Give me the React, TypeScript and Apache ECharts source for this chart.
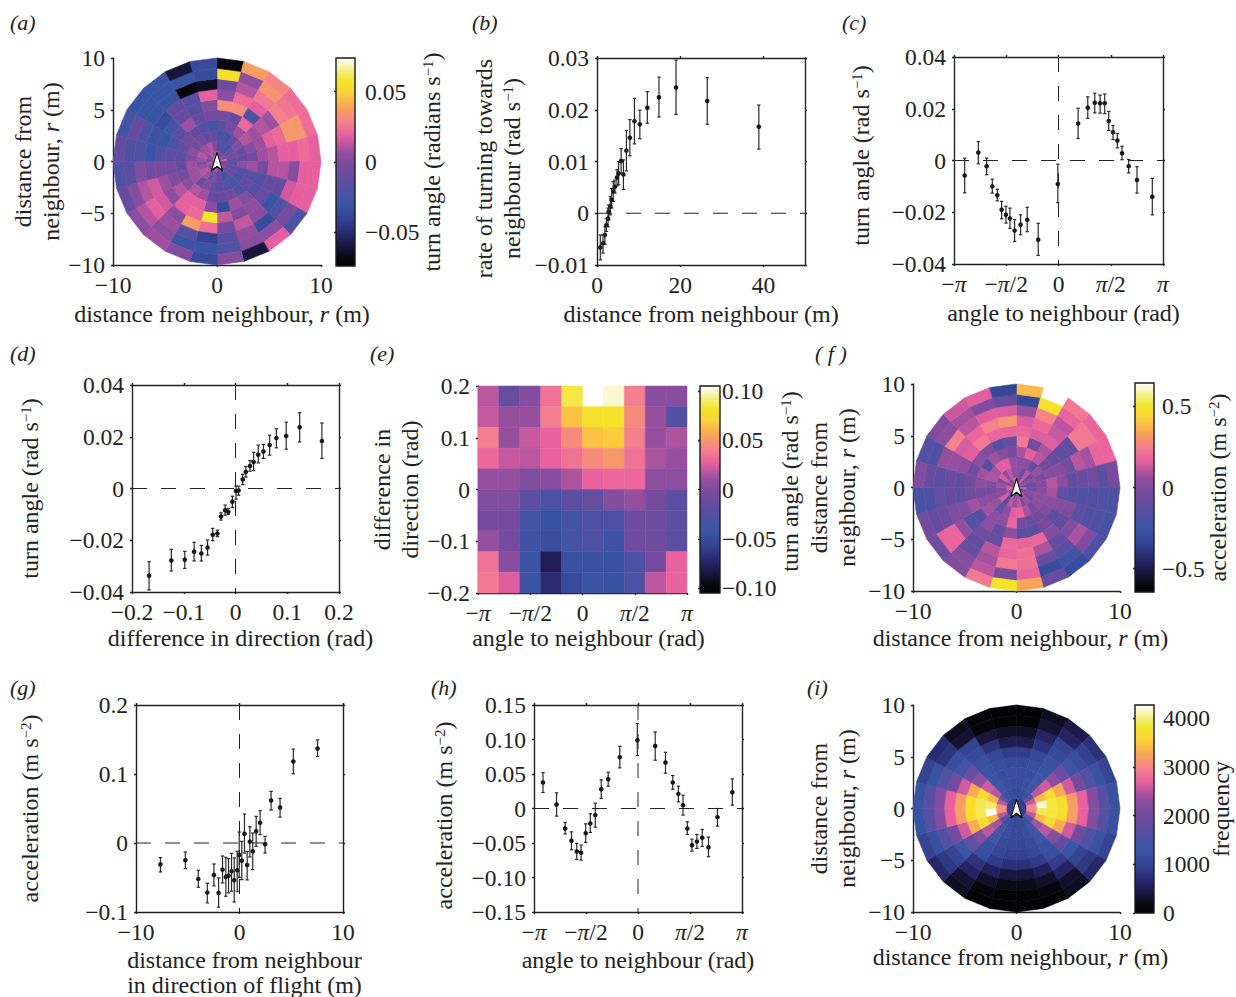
import React, { useEffect, useRef } from "react";
import * as echarts from "echarts";

const SERIF = "Liberation Serif";
const INK = "#222222";
const FS = 23.5;
const NAME_FS = 24;
const PI = Math.PI;

// ---- colour map stops ----
const cmapStops: [number, string][] = [
  [0, "#000000"], [0.05, "#0b0a18"], [0.13, "#231f5e"], [0.22, "#33408f"], [0.3, "#3a55a5"],
  [0.39, "#574fa2"], [0.47, "#744a9e"], [0.54, "#8f4e9f"], [0.58, "#b5559f"], [0.63, "#e8609f"], [0.69, "#f47f8f"],
  [0.76, "#f9a35a"], [0.84, "#fcd535"], [0.89, "#f2e528"], [0.95, "#f5f09a"], [1, "#ffffff"],
];

// ---- panel a: turn angle, in 0.01 rad/s, rings from centre, sectors clockwise from north ----
const aRing0 = [1.2,-1,-1,.4,-1,1.6,-1,-.5,.4,-1,1.6,-.5,1.2,-.5,.8,-1,.4,1.2,-1,.4,-1,1.6,0,1.2];
const aRing1 = [-1.5,-2,-3,-1,-.5,-1,-1.5,-1,-1,-1.5,-2.5,-1,0,-1,.8,1.2,.8,0,.8,1.2,.8,.8,1.2,0];
const aRing2 = [-2.5,-2.5,-1,0,-1,-1,.4,-1.5,-2,-2.5,-1.5,-1.5,-1,0,-1,.8,.8,.8,0,.4,-.5,-.5,-1,-1];
const aRing3 = [-1.5,-.5,.8,1.2,.4,-.5,.8,-1.5,-1,-2,-.5,-1,-1,.8,1.2,.4,-.5,-1,-1.5,-1,-.5,-1,-1.5,-2.5];
const aRing4 = [-.5,-1,2.2,.8,.8,.8,-.5,-2,-1.5,0,.8,-3.5,.4,1.9,1.9,1.2,0,-.5,-1.5,-2,-1.5,.8,-1,-.5];
const aRing5 = [3.2,3.2,-2,1.2,1.9,1.2,1.2,-1,-1,.6,0,1.4,5.8,2.2,1.9,.4,.8,-.5,-1.5,-3,-2.5,-1,-1.5,0];
const aRing6 = [.4,2.3,1.9,.8,2.2,1.9,1.2,-1,-3,.4,1.4,-.5,2.3,3.7,.2,1.6,1.6,-.5,-3,-3,-3.5,-1,-1.5,1.9];
const aRing7 = [-.8,1.2,2.6,2.8,3.5,1.9,.2,1.6,-2,-3.5,.6,-1.5,-4,-1.5,.8,1.9,1.2,0,-2,-2,-3,-3,-7,-6.5];
const aRing8 = [5.5,.6,3.4,2.6,3.5,2.3,1.9,1.9,-.5,.4,.4,-2,-3,-3,.4,1.2,.2,-1.5,-2,-1,-3,-3,-3,-3.5];
const aRing9 = [-7,3.7,3,2.3,2.3,1.9,1.9,1.9,-2,1.9,-6,.2,-3.5,0,.8,.4,-1,-2,-1,-2.5,-3,-3,-6,-3.5];
const aRings = [aRing0,aRing1,aRing2,aRing3,aRing4,aRing5,aRing6,aRing7,aRing8,aRing9];

// ---- panel f: acceleration, in 0.1 m/s2 ----
const fRing0 = [.8,-1,1.5,-1,.8,-1.5,1.5,-1,.4,1.5,-1,.8,-1,1.1,-1,.4,.8,1.8,1.5,-1,.8,-.5,1.1,1.5];
const fRing1 = [.4,-1,1.1,-.5,.4,-1,-.5,.4,-.5,.8,0,1.1,.6,1.1,-1.5,1.5,.4,0,.8,0,1.5,.4,1.1,.4];
const fRing2 = [.4,.4,-1,.6,-.3,.2,.2,.4,.4,-.3,.8,1.8,1.6,.4,-1,.6,.2,-.3,0,.9,.8,1.6,1.6,.6];
const fRing3 = [.9,1.7,1.1,-.5,.2,1.1,.8,.4,0,-.5,-.5,-.5,1.8,.4,.4,.8,.4,-.5,.4,.8,-1.5,.8,.2,-.3];
const fRing4 = [2.3,-.5,.9,-.8,.2,.4,-1.2,.2,-1.2,-.3,-1.2,-1.2,.4,-.8,.4,-1.5,.8,-.5,-.5,-.5,.4,0,-1.5,-.8];
const fRing5 = [1.8,1.5,1.6,-1.2,-.5,-1,-1.5,0,-1,.2,1.9,1.8,1.9,-1,-.5,-1.6,0,-1.2,-1,.4,1.6,2.3,1.8,1.8];
const fRing6 = [1.5,1.9,1.3,-1,1.1,-.8,-1.6,-1.2,0,-1,.9,2.1,1.8,1.1,-1,.6,0,-1,-.8,.6,1.5,1.8,2.5,3];
const fRing7 = [.6,2.6,1.1,2.3,.8,-.5,-1.8,-1.6,.9,-1.3,-.8,2.1,2.3,.8,-.8,1.8,-.8,-1,-1.2,.6,2.5,1.1,1.6,1.5];
const fRing8 = [-3.2,4.8,1.8,2.3,1.8,-1.2,-1.6,-1.6,0,-2.2,-3,1.8,-.3,1.1,.2,1.8,-.8,-1.8,-.8,-1.6,.4,.8,0,-.8];
const fRing9 = [3.8,null,2.3,1.8,1.8,-.3,-1.7,-2,-1.6,-3,-.8,3.4,5,2.3,0,-.6,-.5,-2,0,-1.6,0,1.3,1.6,-3.3];
const fRings = [fRing0,fRing1,fRing2,fRing3,fRing4,fRing5,fRing6,fRing7,fRing8,fRing9];

// ---- panel i: frequency ----
const iRing0 = [900,900,900,900,900,900,900,900,900,900,900,900,900,900,900,900,900,900,900,900,900,900,900,900];
const iRing1 = [1100,1150,1200,1800,2500,3000,3000,2500,1800,1250,1100,1050,1050,1100,1250,1800,2500,3100,3100,2500,1800,1200,1150,1100];
const iRing2 = [1150,1200,1400,2500,3400,4200,3900,3400,2400,1350,1150,1100,1100,1150,1350,2400,3400,4300,3950,3400,2500,1400,1200,1150];
const iRing3 = [1150,1150,1300,2600,3700,3850,3850,3700,2500,1350,1100,1050,1050,1100,1350,2500,3700,3900,3900,3700,2600,1300,1150,1150];
const iRing4 = [1100,1150,1250,2300,3300,3700,3700,3300,2200,1200,1050,950,950,1050,1200,2200,3300,3700,3700,3300,2300,1250,1150,1100];
const iRing5 = [900,1050,1200,1900,2600,3200,3200,2600,1800,1150,900,750,750,900,1150,1800,2600,3200,3200,2600,1900,1200,1050,900];
const iRing6 = [500,800,1100,1400,2000,2700,2700,2000,1300,900,550,400,400,550,800,1300,2000,2700,2700,2000,1400,1100,800,500];
const iRing7 = [300,600,1000,1150,1600,2200,2200,1600,1000,600,300,200,200,300,600,1000,1600,2200,2200,1600,1150,1000,400,300];
const iRing8 = [60,350,600,950,1250,1650,1650,1250,850,300,100,60,60,100,350,850,1200,1650,1650,1250,800,350,100,60];
const iRing9 = [30,250,450,750,1000,1200,1200,1000,650,250,60,30,30,60,250,650,1000,1250,1250,1000,700,250,100,30];
const iRings = [iRing0,iRing1,iRing2,iRing3,iRing4,iRing5,iRing6,iRing7,iRing8,iRing9];

// ---- panel e: turn angle, in 0.01 rad/s, rows from top, columns from left ----
const eRow0 = [1.8,-1.5,.3,3.5,8.5,null,10,4,.5,.5];
const eRow1 = [2,1,1,4,6.5,8,8,4.5,1,-2.5];
const eRow2 = [4,1,2,2.8,4.5,6.5,6.8,4,1,1.5];
const eRow3 = [3,2,1.8,2.8,3.5,4.5,5,3.5,1.5,1];
const eRow4 = [1,1,0,.5,1.5,2.8,3,3,.8,.8];
const eRow5 = [0,0,-2,-3,-2,-1.5,.3,1,-.5,-2];
const eRow6 = [-.5,-.5,-3.5,-4.5,-3.5,-3,-3,-1,-1,-2];
const eRow7 = [1,-.5,-4,-4.8,-3.5,-3,-4,-1,-1,-2];
const eRow8 = [3.5,.5,-4,-8,-4.5,-4.5,-4.5,-3,-.5,2.8];
const eRow9 = [3.8,2.5,-4,-7,-5,-4,-4.5,-3,1.8,2.8];
const eRows = [eRow0,eRow1,eRow2,eRow3,eRow4,eRow5,eRow6,eRow7,eRow8,eRow9];

// ---- panel b ----
const bX = [38.9,26.5,19,14.9,12.1,10.3,9,7.9,7.07,6.35,5.8,5.2,4.8,4.3,3.9,3.5,3.2,2.8,2.65,2.25,1.9,1.45,.8];
const bY = [.0167,.0217,.0243,.0224,.0204,.0172,.0178,.0146,.0121,.0075,.0101,.0077,.0069,.0051,.0042,.0026,.0013,.0003,-.001,-.0023,-.0042,-.0058,-.0066];
const bHi = [.0209,.0262,.0296,.0263,.0235,.0199,.0222,.0181,.016,.0103,.0125,.01,.0084,.0064,.0061,.0048,.0032,.0016,.001,-.001,-.0026,-.0042,-.0042];
const bLo = [.0124,.0172,.0191,.0186,.0174,.0144,.0134,.0111,.0082,.0046,.0077,.0055,.0053,.0039,.0023,.001,-.0003,-.0013,-.0026,-.0035,-.006,-.0077,-.009];

// ---- panel c ----
const cX = [-2.82,-2.41,-2.16,-1.99,-1.84,-1.71,-1.58,-1.46,-1.32,-1.14,-.94,-.61,-.02,.59,.88,1.09,1.25,1.39,1.51,1.64,1.77,1.91,2.11,2.36,2.82];
const cY = [-.0058,.0031,-.0022,-.01,-.0134,-.019,-.021,-.0224,-.0271,-.0248,-.0229,-.0306,-.0091,.0143,.0204,.0223,.0221,.0221,.0153,.0109,.0077,.0028,-.0022,-.0075,-.014];
const cHi = [.0009,.0073,.0009,-.0072,-.0111,-.0158,-.0177,-.0184,-.0228,-.021,-.0181,-.0243,-.0014,.0202,.0246,.026,.0253,.0257,.019,.0135,.0104,.0055,.0004,-.0024,-.0069];
const cLo = [-.0125,-.0013,-.0055,-.0126,-.0156,-.0225,-.0242,-.0262,-.0313,-.0287,-.0275,-.0367,-.0163,.0085,.0163,.0184,.0183,.0181,.0116,.0081,.0049,.0003,-.0048,-.0126,-.021];

// ---- panel d ----
const dX = [-.167,-.124,-.098,-.08,-.066,-.054,-.044,-.035,-.028,-.02,-.014,-.006,.001,.006,.014,.02,.028,.035,.044,.054,.066,.079,.098,.124,.167];
const dY = [-.0337,-.0278,-.0275,-.0244,-.0251,-.0228,-.0179,-.0174,-.0108,-.0084,-.009,-.0051,-.001,-.0008,.0035,.0064,.0087,.0102,.013,.0143,.0168,.0195,.0203,.0237,.0184];
const dHi = [-.0283,-.0235,-.0243,-.0208,-.022,-.0199,-.0154,-.0161,-.0094,-.0064,-.0077,-.003,.001,.0009,.0055,.0085,.0108,.014,.0168,.017,.0206,.0231,.0256,.0293,.0253];
const dLo = [-.0392,-.0319,-.0309,-.028,-.028,-.0257,-.0202,-.0186,-.0122,-.0103,-.01,-.0073,-.0041,-.0026,.0015,.0044,.0067,.0069,.0099,.0116,.0129,.0157,.0152,.018,.0116];

// ---- panel g ----
const gX = [-7.64,-5.23,-3.98,-3.11,-2.47,-2.02,-1.64,-1.32,-1.06,-.77,-.51,-.22,-.03,.22,.48,.74,1,1.28,1.61,1.99,2.47,3.05,3.92,5.2,7.54];
const gY = [-.0313,-.0251,-.052,-.0718,-.0463,-.0723,-.0386,-.0492,-.0473,-.041,-.054,-.0396,-.0174,-.0256,.0135,-.0318,.0019,-.0121,.0169,.0294,-.0019,.0617,.0516,.1182,.137];
const gHi = [-.0212,-.013,-.0395,-.0583,-.0304,-.0506,-.0188,-.0207,-.0227,-.015,-.0217,-.0121,.0159,.0024,.042,-.0121,.0236,.0145,.0386,.0468,.0096,.0748,.0646,.136,.1495];
const gLo = [-.042,-.0371,-.0641,-.0868,-.0622,-.0931,-.0579,-.0772,-.0724,-.07,-.0854,-.07,-.0497,-.0531,-.0145,-.0535,-.0203,-.0386,-.0048,.0121,-.0145,.0478,.0376,.1003,.1254];

// ---- panel h ----
const hX = [-2.87,-2.46,-2.2,-2.01,-1.85,-1.72,-1.58,-1.44,-1.29,-1.11,-.9,-.55,-.02,.52,.83,1.05,1.22,1.36,1.49,1.63,1.78,1.94,2.13,2.4,2.85];
const hY = [.0376,.0058,-.0289,-.0468,-.0622,-.0642,-.0357,-.0217,-.0096,.028,.0425,.0743,.0989,.0907,.0666,.0376,.0212,.0048,-.0289,-.0531,-.0478,-.0425,-.056,-.0125,.0236];
const hHi = [.0521,.0227,-.0203,-.0338,-.0507,-.0531,-.0222,-.0077,.0077,.0415,.0526,.0902,.123,.111,.0815,.0478,.0323,.0193,-.0193,-.0444,-.0376,-.0304,-.0415,0,.0429];
const hLo = [.0232,-.0111,-.0367,-.0598,-.0738,-.0748,-.0492,-.0347,-.027,.0145,.0323,.0589,.0767,.07,.0511,.028,.0096,-.0096,-.0376,-.0617,-.0579,-.055,-.0699,-.0256,.0048];

const panelLabels: [string, number, number][] = [
  ["(a)", 10, 22], ["(b)", 472, 22], ["(c)", 842, 22],
  ["(d)", 10, 353], ["(e)", 370, 353], ["( f )", 815, 353],
  ["(g)", 10, 687], ["(h)", 431, 687], ["(i)", 807, 687],
];

const parsed = cmapStops.map(([t, c]) => [t, parseInt(c.slice(1, 3), 16), parseInt(c.slice(3, 5), 16), parseInt(c.slice(5, 7), 16)]);
function heat(v: number, lo: number, hi: number) {
  const t = Math.max(0, Math.min(1, (v - lo) / (hi - lo)));
  let i = 0;
  while (i < parsed.length - 2 && t > parsed[i + 1][0]) i++;
  const a = parsed[i], b = parsed[i + 1];
  const k = (t - a[0]) / (b[0] - a[0]);
  const m = (j: number) => Math.round(a[j] + (b[j] - a[j]) * k);
  return `rgb(${m(1)},${m(2)},${m(3)})`;
}

const richLabel = { i: { fontFamily: SERIF, fontSize: FS, fontStyle: "italic", color: INK } };
const richName = {
  i: { fontFamily: SERIF, fontSize: NAME_FS, fontStyle: "italic", color: INK, lineHeight: 28 },
  sup: { fontFamily: SERIF, fontSize: 15, color: INK, padding: [0, 0, 9, 0] },
};
const num = (dec: number) => (v: number) => (Math.abs(v) < 1e-9 ? "0" : v.toFixed(dec).replace("-", "\u2212"));
const piFmt = (v: number) => {
  const k = Math.round(v / (PI / 2));
  return ({ "-2": "\u2212{i|\u03c0}", "-1": "\u2212{i|\u03c0}/2", "0": "0", "1": "{i|\u03c0}/2", "2": "{i|\u03c0}" } as any)[String(k)];
};
const piTicks = [-PI, -PI / 2, 0, PI / 2, PI];

const lineStyle = { color: INK, width: 1.4 };
function axis(kind: "x" | "y", gridIndex: number, o: any, labelled = true) {
  const pos = labelled ? (kind === "x" ? "bottom" : "left") : kind === "x" ? "top" : "right";
  const s = o.shift || 0;
  return {
    type: "value", gridIndex, position: o.position || pos, min: o.min, max: o.max,
    ...(o.custom ? {} : { interval: o.interval }),
    axisLine: { show: true, onZero: false, lineStyle },
    axisTick: { show: true, length: 2, lineStyle, ...(o.custom ? { customValues: o.custom } : {}) },
    splitLine: { show: false },
    axisLabel: {
      show: labelled, fontFamily: SERIF, fontSize: FS, color: INK, margin: o.margin ?? 8,
      formatter: o.fmt, rich: richLabel, hideOverlap: false, showMinLabel: true, showMaxLabel: true,
      ...(o.custom ? { customValues: o.custom } : {}),
    },
    ...(labelled && o.name
      ? {
          name: o.name, nameLocation: "middle", nameGap: o.gap, nameMoveOverlap: false,
          nameRotate: kind === "y" ? 90 : 0,
          nameTextStyle: {
            fontFamily: SERIF, fontSize: NAME_FS, color: INK, lineHeight: o.lh ?? 28, rich: richName,
            padding: s > 0 ? [0, 0, 0, 2 * s] : s < 0 ? [0, -2 * s, 0, 0] : 0,
          },
        }
      : {}),
  };
}

const grids: any[] = [], xAxes: any[] = [], yAxes: any[] = [], series: any[] = [];

function panel(rect: number[], x: any, y: any, box: boolean) {
  const g = grids.length;
  grids.push({ left: rect[0], top: rect[1], width: rect[2] - rect[0], height: rect[3] - rect[1], outerBoundsMode: "none" });
  const xi = xAxes.length, yi = yAxes.length;
  xAxes.push(axis("x", g, x));
  yAxes.push(axis("y", g, y));
  if (box) {
    xAxes.push(axis("x", g, x, false));
    yAxes.push(axis("y", g, y, false));
  }
  return { xi, yi };
}

function colorbar(rect: number[], min: number, max: number, ticks: number[], fmt: any, name: string, gap: number, margin: number, shift = 0) {
  const g = grids.length;
  grids.push({
    show: true, left: rect[0], top: rect[1], width: rect[2] - rect[0], height: rect[3] - rect[1],
    borderColor: "#1a1a1a", borderWidth: 1.4, outerBoundsMode: "none",
    backgroundColor: new echarts.graphic.LinearGradient(0, 1, 0, 0, cmapStops.map(([offset, color]) => ({ offset, color }))),
  });
  xAxes.push({ type: "value", gridIndex: g, min: 0, max: 1, show: false });
  const a: any = axis("y", g, { min, max, custom: ticks, fmt, name, gap, margin, position: "right", shift });
  a.axisLine = { show: false };
  a.axisTick.inside = true;
  yAxes.push(a);
}

function arrow(xi: number, yi: number) {
  series.push({
    type: "scatter", xAxisIndex: xi, yAxisIndex: yi, data: [[0, 0]], silent: true, z: 5,
    symbol: "path://M6 0L12 20L6 15.5L0 20Z", symbolSize: [11, 18],
    itemStyle: { color: "#ffffff", borderColor: "#000000", borderWidth: 1.3, opacity: 1, borderJoin: "round" },
  });
}

function polar(xi: number, yi: number, rings: (number | null)[][], unit: number, lo: number, hi: number) {
  const data: number[][] = [];
  rings.forEach((row, r) => row.forEach((v, s) => { if (v !== null) data.push([r, s, v * unit]); }));
  series.push({
    type: "custom", xAxisIndex: xi, yAxisIndex: yi, data, silent: true,
    encode: { x: 0, y: 1 },
    renderItem: (_p: any, api: any) => {
      const r = api.value(0), s = api.value(1), v = api.value(2);
      const t0 = (s * 15 * PI) / 180, t1 = ((s + 1) * 15 * PI) / 180;
      const pt = (rad: number, t: number) => api.coord([rad * Math.sin(t), rad * Math.cos(t)]);
      const c = heat(v, lo, hi);
      return {
        type: "polygon",
        shape: { points: [pt(r, t0), pt(r + 1, t0), pt(r + 1, t1), pt(r, t1)] },
        style: { fill: c, stroke: c, lineWidth: 0.6 },
      };
    },
  });
}

function errbars(xi: number, yi: number, xs: number[], ys: number[], his: number[], los: number[]) {
  series.push({
    type: "custom", xAxisIndex: xi, yAxisIndex: yi, silent: true, z: 4, clip: false,
    data: xs.map((v, i) => [v, ys[i], his[i], los[i]]),
    encode: { x: 0, y: 1 },
    renderItem: (_p: any, api: any) => {
      const x = api.value(0);
      const c = api.coord([x, api.value(1)]), h = api.coord([x, api.value(2)]), l = api.coord([x, api.value(3)]);
      const st = { stroke: "#2a2a2a", lineWidth: 1.2, fill: "none" };
      return {
        type: "group",
        children: [
          { type: "line", shape: { x1: c[0], y1: h[1], x2: c[0], y2: l[1] }, style: st },
          { type: "line", shape: { x1: c[0] - 1.7, y1: h[1], x2: c[0] + 1.7, y2: h[1] }, style: st },
          { type: "line", shape: { x1: c[0] - 1.7, y1: l[1], x2: c[0] + 1.7, y2: l[1] }, style: st },
          { type: "circle", shape: { cx: c[0], cy: c[1], r: 2.3 }, style: { fill: "#1a1a1a" } },
        ],
      };
    },
  });
}

function dashes(xi: number, yi: number, pts: number[][]) {
  series.push({
    type: "line", xAxisIndex: xi, yAxisIndex: yi, data: pts, symbol: "none", silent: true, z: 3,
    lineStyle: { color: "#222", width: 1, type: [15, 14] },
  });
}

const DIST = "distance from neighbour, {i|r} (m)";
const DIST2 = "distance from\nneighbour, {i|r} (m)";

// a
{
  const p = panel([113, 58, 321, 265],
    { min: -10, max: 10, interval: 10, fmt: num(0), name: DIST, gap: 35, shift: 5 },
    { min: -10, max: 10, interval: 5, fmt: num(0), name: DIST2, gap: 48 }, false);
  polar(p.xi, p.yi, aRings, 0.01, -0.074, 0.074);
  arrow(p.xi, p.yi);
  colorbar([336, 58, 355, 266], -0.074, 0.074, [-0.05, 0, 0.05], num(2), "turn angle (radians s{sup|\u22121})", 63, 10);
}
// b
{
  const p = panel([597, 58, 805, 265],
    { min: 0, max: 50, custom: [0, 20, 40], fmt: num(0), name: "distance from neighbour (m)", gap: 35 },
    { min: -0.01, max: 0.03, interval: 0.01, fmt: num(2), name: "rate of turning towards\nneighbour (rad s{sup|\u22121})", gap: 71, shift: -7 }, true);
  dashes(p.xi, p.yi, [[0, 0], [50, 0]]);
  errbars(p.xi, p.yi, bX, bY, bHi, bLo);
}
// c
{
  const p = panel([954, 57, 1163, 264],
    { min: -PI, max: PI, custom: piTicks, fmt: piFmt, name: "angle to neighbour (rad)", gap: 35, shift: 5 },
    { min: -0.04, max: 0.04, interval: 0.02, fmt: num(2), name: "turn angle (rad s{sup|\u22121})", gap: 79, shift: 5 }, true);
  dashes(p.xi, p.yi, [[-PI, 0], [PI, 0]]);
  dashes(p.xi, p.yi, [[0, 0.04], [0, -0.04]]);
  errbars(p.xi, p.yi, cX, cY, cHi, cLo);
}
// d
{
  const p = panel([132, 385, 339, 592],
    { min: -0.2, max: 0.2, interval: 0.1, fmt: num(1), name: "difference in direction (rad)", gap: 32, shift: 5 },
    { min: -0.04, max: 0.04, interval: 0.02, fmt: num(2), name: "turn angle (rad s{sup|\u22121})", gap: 88 }, true);
  dashes(p.xi, p.yi, [[-0.2, 0], [0.2, 0]]);
  dashes(p.xi, p.yi, [[0, 0.04], [0, -0.04]]);
  errbars(p.xi, p.yi, dX, dY, dHi, dLo);
}
// e
{
  const p = panel([478, 386, 687, 593],
    { min: -PI, max: PI, custom: piTicks, fmt: piFmt, name: "angle to neighbour (rad)", gap: 31, shift: 6 },
    { min: -0.2, max: 0.2, interval: 0.1, fmt: num(1), name: "difference in\ndirection (rad)", gap: 54 }, false);
  const data: number[][] = [];
  eRows.forEach((row, r) => row.forEach((v, c) => { if (v !== null) data.push([c, r, v * 0.01]); }));
  series.push({
    type: "custom", xAxisIndex: p.xi, yAxisIndex: p.yi, data, silent: true,
    encode: { x: 0, y: 1 },
    renderItem: (_p: any, api: any) => {
      const c = api.value(0), r = api.value(1);
      const a = api.coord([-PI + (c * 2 * PI) / 10, 0.2 - r * 0.04]);
      const b = api.coord([-PI + ((c + 1) * 2 * PI) / 10, 0.2 - (r + 1) * 0.04]);
      const col = heat(api.value(2), -0.105, 0.105);
      return { type: "rect", shape: { x: a[0], y: a[1], width: b[0] - a[0], height: b[1] - a[1] }, style: { fill: col, stroke: col, lineWidth: 0.5 } };
    },
  });
  colorbar([700, 386, 720, 593], -0.105, 0.105, [-0.1, -0.05, 0, 0.05, 0.1], num(2), "turn angle (rad s{sup|\u22121})", 56, 2, 8);
}
// f
{
  const p = panel([913, 384, 1120, 591],
    { min: -10, max: 10, interval: 10, fmt: num(0), name: DIST, gap: 33, shift: 4 },
    { min: -10, max: 10, interval: 5, fmt: num(0), name: DIST2, gap: 52 }, false);
  polar(p.xi, p.yi, fRings, 0.1, -0.645, 0.645);
  arrow(p.xi, p.yi);
  colorbar([1135, 383, 1154, 592], -0.645, 0.645, [-0.5, 0, 0.5], num(1), "acceleration (m s{sup|\u22122})", 50, 8);
}
// g
{
  const p = panel([136, 705, 343, 912],
    { min: -10, max: 10, interval: 10, fmt: num(0), name: "distance from neighbour\nin direction of flight (m)", gap: 35, shift: 5, lh: 25 },
    { min: -0.1, max: 0.2, interval: 0.1, fmt: num(1), name: "acceleration (m s{sup|\u22122})", gap: 92 }, true);
  dashes(p.xi, p.yi, [[-10, 0], [10, 0]]);
  dashes(p.xi, p.yi, [[0, 0.2], [0, -0.1]]);
  errbars(p.xi, p.yi, gX, gY, gHi, gLo);
}
// h
{
  const p = panel([534, 705, 742, 912],
    { min: -PI, max: PI, custom: piTicks, fmt: piFmt, name: "angle to neighbour (rad)", gap: 34 },
    { min: -0.15, max: 0.15, interval: 0.05, fmt: num(2), name: "acceleration (m s{sup|\u22122})", gap: 76, shift: -7 }, true);
  dashes(p.xi, p.yi, [[-PI, 0], [PI, 0]]);
  dashes(p.xi, p.yi, [[0, 0.15], [0, -0.15]]);
  errbars(p.xi, p.yi, hX, hY, hHi, hLo);
}
// i
{
  const p = panel([913, 705, 1120, 912],
    { min: -10, max: 10, interval: 10, fmt: num(0), name: DIST, gap: 31, shift: 4 },
    { min: -10, max: 10, interval: 5, fmt: num(0), name: DIST2, gap: 52 }, false);
  polar(p.xi, p.yi, iRings, 1, 0, 4270);
  arrow(p.xi, p.yi);
  colorbar([1135, 705, 1154, 913], 0, 4270, [0, 1000, 2000, 3000, 4000], num(0), "frequency", 53, 9);
}

export default function App() {
  const ref = useRef<HTMLDivElement>(null);
  useEffect(() => {
    const chart = echarts.init(ref.current!, undefined, { renderer: "svg" });
    chart.setOption({
      animation: false,
      backgroundColor: "#ffffff",
      grid: grids,
      xAxis: xAxes,
      yAxis: yAxes,
      series,
      graphic: panelLabels.map(([text, x, y]) => ({
        type: "text", left: x, top: y - 11,
        style: { text, fontFamily: SERIF, fontSize: 22, fontStyle: "italic", fill: INK },
      })),
    });
    return () => chart.dispose();
  }, []);
  return <div ref={ref} style={{ position: "absolute", left: 0, top: 0, width: 1236, height: 997 }} />;
}
